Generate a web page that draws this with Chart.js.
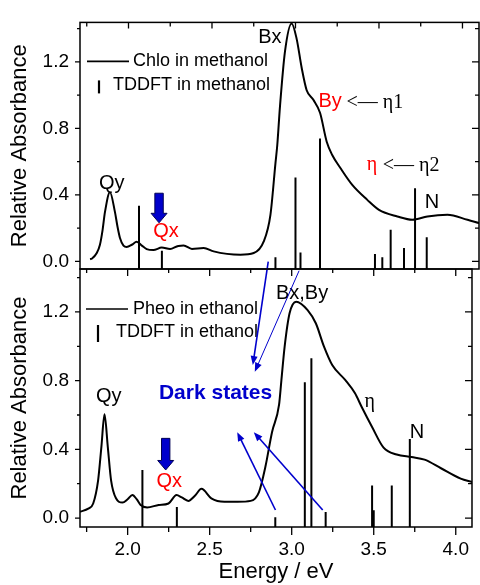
<!DOCTYPE html>
<html>
<head>
<meta charset="utf-8">
<script src="https://cdn.jsdelivr.net/npm/chart.js@4.4.0/dist/chart.umd.min.js"></script>
<style>
  html, body { margin: 0; padding: 0; background: #fff; }
  #wrap { position: relative; width: 480px; height: 585px; }
  #wrap canvas { position: absolute; left: 0; top: 0; }
</style>
</head>
<body>
<div id="wrap">
  <canvas id="bottomChart" width="480" height="585"></canvas>
  <canvas id="topChart" width="480" height="585"></canvas>
</div>
<script>
// Chlorophyll in methanol - measured spectrum
const chloEnergy = [1.77, 1.78, 1.81, 1.829, 1.845, 1.859, 1.889, 1.919, 1.934, 1.949, 1.97, 1.989, 2.02, 2.049, 2.08, 2.109, 2.149, 2.199, 2.249, 2.298, 2.33, 2.38, 2.45, 2.51, 2.59, 2.67, 2.75, 2.81, 2.85, 2.88, 2.891, 2.907, 2.937, 2.977, 3.007, 3.037, 3.067, 3.107, 3.147, 3.187, 3.22, 3.27, 3.34, 3.43, 3.50, 3.61, 3.70, 3.79, 3.91, 4.03, 4.10];
const chloAbs = [0.013, 0.016, 0.05, 0.10, 0.19, 0.296, 0.416, 0.296, 0.21, 0.141, 0.095, 0.087, 0.10, 0.118, 0.095, 0.074, 0.068, 0.083, 0.074, 0.093, 0.095, 0.075, 0.08, 0.06, 0.045, 0.04, 0.05, 0.12, 0.28, 0.59, 0.70, 0.93, 1.262, 1.432, 1.339, 1.165, 1.03, 0.972, 0.894, 0.72, 0.64, 0.56, 0.46, 0.37, 0.31, 0.27, 0.25, 0.27, 0.28, 0.25, 0.23];

// TDDFT in methanol - stick spectrum
const chloTdEnergy = [2.063, 2.20, 2.88, 3.0, 3.03, 3.147, 3.476, 3.52, 3.57, 3.65, 3.716, 3.786];
const chloTdAbs = [0.334, 0.064, 0.025, 0.505, 0.054, 0.74, 0.045, 0.025, 0.19, 0.08, 0.44, 0.145];

// Pheophytin in ethanol - measured spectrum
const pheoEnergy = [1.71, 1.76, 1.79, 1.82, 1.84, 1.859, 1.879, 1.899, 1.929, 1.969, 2.0, 2.029, 2.055, 2.079, 2.119, 2.189, 2.249, 2.298, 2.33, 2.37, 2.41, 2.45, 2.51, 2.59, 2.67, 2.75, 2.80, 2.84, 2.88, 2.923, 2.937, 2.957, 2.987, 3.027, 3.097, 3.147, 3.197, 3.247, 3.326, 3.386, 3.426, 3.49, 3.56, 3.64, 3.73, 3.81, 3.91, 4.03, 4.10];
const pheoAbs = [0.037, 0.055, 0.085, 0.22, 0.415, 0.604, 0.415, 0.22, 0.115, 0.09, 0.11, 0.134, 0.11, 0.076, 0.062, 0.076, 0.085, 0.134, 0.12, 0.10, 0.13, 0.17, 0.115, 0.095, 0.095, 0.10, 0.15, 0.30, 0.50, 0.66, 0.80, 0.998, 1.192, 1.26, 1.211, 1.134, 0.998, 0.891, 0.804, 0.726, 0.648, 0.53, 0.41, 0.37, 0.355, 0.34, 0.29, 0.23, 0.21];

// TDDFT in ethanol - stick spectrum
const pheoTdEnergy = [2.09, 2.30, 2.90, 3.08, 3.12, 3.207, 3.49, 3.50, 3.61, 3.72];
const pheoTdAbs = [0.28, 0.064, 0.005, 0.79, 0.93, 0.035, 0.19, 0.045, 0.19, 0.46];

// axis ticks
const energyTicks = [1.75, 2.0, 2.25, 2.5, 2.75, 3.0, 3.25, 3.5, 3.75, 4.0];
const energyLabels = [2.0, 2.5, 3.0, 3.5, 4.0];
const absTicks = [0, 0.2, 0.4, 0.6, 0.8, 1.0, 1.2, 1.4];
const absLabels = [0, 0.4, 0.8, 1.2];

const SANS = "'Liberation Sans', Arial, sans-serif";
const SERIF = "'Liberation Serif', 'Times New Roman', serif";
const BLUE = '#0000cc';
const RED = '#ff0000';

const xy = (xs, ys) => xs.map((x, i) => ({ x: x, y: ys[i] }));

// vertical sticks from the bottom of the frame, broken by nulls
function sticks(xs, ys, base) {
  const out = [];
  xs.forEach((x, i) => {
    out.push({ x: x, y: base }, { x: x, y: ys[i] }, { x: x, y: null });
  });
  return out;
}

function txt(ctx, s, x, y, font, color, align) {
  ctx.font = font;
  ctx.fillStyle = color || '#000';
  ctx.textAlign = align || 'center';
  ctx.textBaseline = 'middle';
  ctx.fillText(s, x, y);
}

function blockArrow(ctx, x, y0, y1) {
  const sw = 4.2, hw = 8, hl = 9.5;
  ctx.beginPath();
  ctx.moveTo(x - sw, y0);
  ctx.lineTo(x + sw, y0);
  ctx.lineTo(x + sw, y1 - hl);
  ctx.lineTo(x + hw, y1 - hl);
  ctx.lineTo(x, y1);
  ctx.lineTo(x - hw, y1 - hl);
  ctx.lineTo(x - sw, y1 - hl);
  ctx.closePath();
  ctx.fillStyle = BLUE;
  ctx.fill();
  ctx.strokeStyle = '#000055';
  ctx.lineWidth = 1;
  ctx.stroke();
}

function lineArrow(ctx, x0, y0, x1, y1, w) {
  const ang = Math.atan2(y1 - y0, x1 - x0);
  const L = 9, W = 3.5;
  ctx.strokeStyle = BLUE;
  ctx.fillStyle = BLUE;
  ctx.lineWidth = w;
  ctx.beginPath();
  ctx.moveTo(x0, y0);
  ctx.lineTo(x1 - Math.cos(ang) * L * 0.8, y1 - Math.sin(ang) * L * 0.8);
  ctx.stroke();
  ctx.beginPath();
  ctx.moveTo(x1, y1);
  ctx.lineTo(x1 - Math.cos(ang) * L - Math.sin(ang) * W, y1 - Math.sin(ang) * L + Math.cos(ang) * W);
  ctx.lineTo(x1 - Math.cos(ang) * L + Math.sin(ang) * W, y1 - Math.sin(ang) * L - Math.cos(ang) * W);
  ctx.closePath();
  ctx.fill();
}

// frame + tick marks (in / out on each side)
const framePlugin = {
  id: 'frame',
  afterDraw(chart, args, o) {
    const { ctx, chartArea: a } = chart;
    const sx = chart.scales.x, sy = chart.scales.y;
    ctx.save();
    ctx.strokeStyle = '#000';
    ctx.lineWidth = 1.5;
    ctx.strokeRect(a.left, a.top, a.right - a.left, a.bottom - a.top);
    ctx.lineWidth = 1.3;
    ctx.beginPath();
    energyTicks.forEach(v => {
      const px = sx.getPixelForValue(v);
      const major = Math.abs(v * 2 - Math.round(v * 2)) < 1e-6;
      if (o.top) {
        const l = major ? o.top[1] : o.top[2];
        const d = o.top[0] === 'in' ? 1 : -1;
        ctx.moveTo(px, a.top); ctx.lineTo(px, a.top + d * l);
      }
      if (o.bottom) {
        const l = major ? o.bottom[1] : o.bottom[2];
        const d = o.bottom[0] === 'in' ? -1 : 1;
        ctx.moveTo(px, a.bottom); ctx.lineTo(px, a.bottom + d * l);
      }
    });
    absTicks.forEach(v => {
      const py = sy.getPixelForValue(v);
      if (py < a.top - 0.5) return;
      const major = Math.abs(v / 0.4 - Math.round(v / 0.4)) < 1e-6;
      if (o.left) {
        const l = major ? o.left[1] : o.left[2];
        const d = o.left[0] === 'in' ? 1 : -1;
        ctx.moveTo(a.left, py); ctx.lineTo(a.left + d * l, py);
      }
      if (o.right) {
        const l = major ? o.right[1] : o.right[2];
        const d = o.right[0] === 'in' ? -1 : 1;
        ctx.moveTo(a.right, py); ctx.lineTo(a.right + d * l, py);
      }
    });
    ctx.stroke();
    ctx.restore();
  }
};

// legend box and text labels
const notesPlugin = {
  id: 'notes',
  afterDraw(chart, args, o) {
    const { ctx, chartArea: a } = chart;
    const sx = chart.scales.x, sy = chart.scales.y;
    const X = v => sx.getPixelForValue(v), Y = v => sy.getPixelForValue(v);
    ctx.save();
    // legend
    const lg = o.legend;
    ctx.strokeStyle = '#000';
    ctx.lineWidth = 1.6;
    ctx.beginPath();
    ctx.moveTo(a.left + lg.line[0], a.top + lg.line[2]);
    ctx.lineTo(a.left + lg.line[1], a.top + lg.line[2]);
    ctx.stroke();
    ctx.lineWidth = 2.2;
    ctx.beginPath();
    ctx.moveTo(a.left + lg.bar[0], a.top + lg.bar[1]);
    ctx.lineTo(a.left + lg.bar[0], a.top + lg.bar[2]);
    ctx.stroke();
    txt(ctx, lg.text1, a.left + lg.t1[0], a.top + lg.t1[1], '18px ' + SANS, '#000', 'left');
    txt(ctx, lg.text2, a.left + lg.t2[0], a.top + lg.t2[1], '18px ' + SANS, '#000', 'left');
    // labels
    o.labels.forEach(l => {
      txt(ctx, l.s, X(l.x), Y(l.y), l.font || ('20px ' + SANS), l.c || '#000', l.align || 'center');
    });
    (o.blocks || []).forEach(b => blockArrow(ctx, X(b.x), Y(b.y0), Y(b.y1)));
    (o.arrows || []).forEach(r => lineArrow(ctx, X(r.x0), Y(r.y0), X(r.x1), Y(r.y1), r.w));
    ctx.restore();
  }
};

function baseOptions(yMin, yMax, padTop, padBottom, showX) {
  return {
    responsive: false,
    animation: false,
    events: [],
    layout: { padding: { top: padTop, bottom: padBottom, left: 0, right: 1 } },
    plugins: { legend: { display: false }, tooltip: { enabled: false } },
    elements: { point: { radius: 0 } },
    scales: {
      x: {
        type: 'linear',
        min: 1.7096, max: 4.099,
        display: showX,
        grid: { display: false, drawTicks: false },
        border: { display: false },
        afterBuildTicks: s => { s.ticks = energyLabels.map(v => ({ value: v })); },
        afterFit: s => { s.height = showX ? 58 : 0; },
        ticks: {
          padding: 11, color: '#000', maxRotation: 0,
          font: { family: SANS, size: 19 },
          callback: v => Number(v).toFixed(1)
        },
        title: {
          display: true, text: 'Energy / eV', color: '#000',
          font: { family: SANS, size: 22 }, padding: { top: 0, bottom: 0 }
        }
      },
      y: {
        min: yMin, max: yMax,
        grid: { display: false, drawTicks: false },
        border: { display: false },
        afterBuildTicks: s => { s.ticks = absLabels.map(v => ({ value: v })); },
        afterFit: s => { s.width = 80; },
        ticks: {
          padding: 11, color: '#000',
          font: { family: SANS, size: 19 },
          callback: v => Number(v).toFixed(1)
        },
        title: {
          display: true, text: 'Relative Absorbance', color: '#000',
          font: { family: SANS, size: 22 }, padding: { top: 7, bottom: 0 }
        }
      }
    }
  };
}

// ---- top panel: Chlo in methanol
const TOP_MIN = -0.046, TOP_MAX = 1.438;
const topOpts = baseOptions(TOP_MIN, TOP_MAX, 13, 316, false);
topOpts.plugins.frame = {
  top: ['in', 6, 4], left: ['out', 5, 3], right: ['in', 7, 4]
};
topOpts.plugins.notes = {
  legend: {
    line: [7, 49, 39], bar: [19, 58, 71],
    text1: 'Chlo in methanol', t1: [53, 39],
    text2: 'TDDFT in methanol', t2: [33, 63]
  },
  labels: [
    { s: 'Qy', x: 1.90, y: 0.47 },
    { s: 'Qx', x: 2.225, y: 0.18, c: RED },
    { s: 'Bx', x: 2.847, y: 1.345 },
    { s: 'By', x: 3.207, y: 0.962, c: RED },
    { s: '<\u2014 \u03b71', x: 3.305, y: 0.955, font: '20px ' + SERIF, align: 'left' },
    { s: '\u03b7', x: 3.458, y: 0.58, c: RED, font: '20px ' + SERIF },
    { s: '<\u2014 \u03b72', x: 3.522, y: 0.575, font: '20px ' + SERIF, align: 'left' },
    { s: 'N', x: 3.817, y: 0.354 }
  ],
  blocks: [{ x: 2.183, y0: 0.41, y1: 0.232 }]
};
new Chart(document.getElementById('topChart').getContext('2d'), {
  type: 'line',
  data: {
    datasets: [
      { data: xy(chloEnergy, chloAbs), borderColor: '#000', borderWidth: 2, cubicInterpolationMode: 'monotone' },
      { data: sticks(chloTdEnergy, chloTdAbs, TOP_MIN), borderColor: '#000', borderWidth: 2, tension: 0, spanGaps: false }
    ]
  },
  options: topOpts,
  plugins: [framePlugin, notesPlugin]
});

// ---- bottom panel: Pheo in ethanol
const BOT_MIN = -0.052, BOT_MAX = 1.45;
const botOpts = baseOptions(BOT_MIN, BOT_MAX, 269, 0, true);
botOpts.plugins.frame = {
  top: ['in', 7, 4], bottom: ['out', 8, 5], left: ['out', 5, 3], right: ['in', 7, 4]
};
botOpts.plugins.notes = {
  legend: {
    line: [6, 48, 40], bar: [18, 56, 73],
    text1: 'Pheo in ethanol', t1: [53, 40],
    text2: 'TDDFT in ethanol', t2: [36, 63]
  },
  labels: [
    { s: 'Qy', x: 1.885, y: 0.706 },
    { s: 'Qx', x: 2.254, y: 0.215, c: RED },
    { s: 'Bx,By', x: 3.063, y: 1.31 },
    { s: '\u03b7', x: 3.476, y: 0.68, font: '20px ' + SERIF },
    { s: 'N', x: 3.763, y: 0.50 },
    { s: 'Dark states', x: 2.536, y: 0.728, c: BLUE, font: 'bold 21px ' + SANS }
  ],
  blocks: [{ x: 2.232, y0: 0.464, y1: 0.28 }],
  arrows: [
    { x0: 2.857, y0: 1.493, x1: 2.763, y1: 0.891, w: 1.6 },
    { x0: 3.045, y0: 1.440, x1: 2.775, y1: 0.852, w: 1 },
    { x0: 2.901, y0: 0.047, x1: 2.668, y1: 0.50, w: 1.6 },
    { x0: 3.189, y0: 0.047, x1: 2.769, y1: 0.50, w: 1.6 }
  ]
};
new Chart(document.getElementById('bottomChart').getContext('2d'), {
  type: 'line',
  data: {
    datasets: [
      { data: xy(pheoEnergy, pheoAbs), borderColor: '#000', borderWidth: 2, cubicInterpolationMode: 'monotone' },
      { data: sticks(pheoTdEnergy, pheoTdAbs, BOT_MIN), borderColor: '#000', borderWidth: 2, tension: 0, spanGaps: false }
    ]
  },
  options: botOpts,
  plugins: [framePlugin, notesPlugin]
});
</script>
</body>
</html>
